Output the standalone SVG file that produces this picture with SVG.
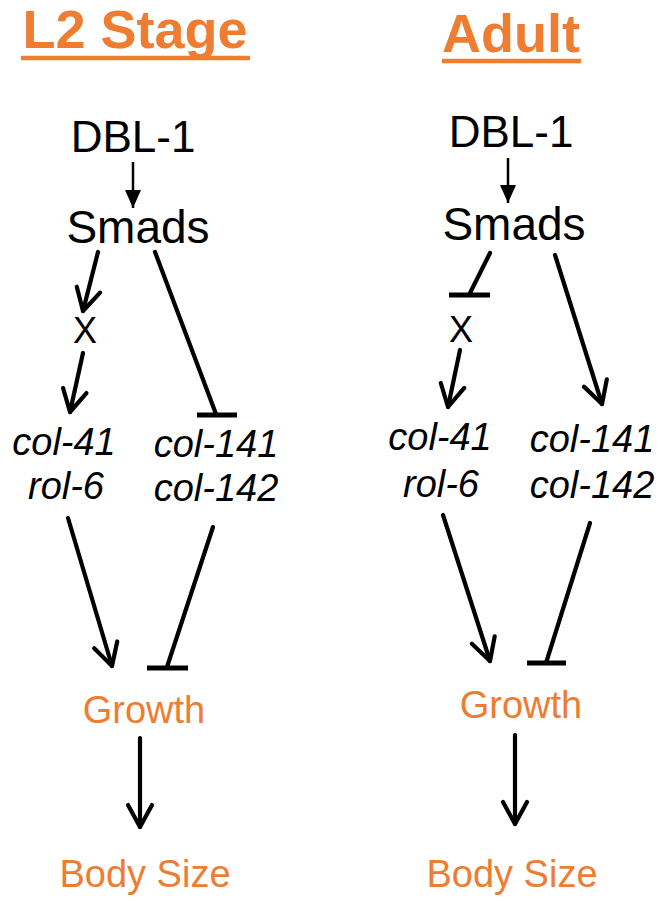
<svg xmlns="http://www.w3.org/2000/svg" width="670" height="897" viewBox="0 0 670 897">
<defs>
<style>
text{font-family:"Liberation Sans",Arial,sans-serif;text-anchor:middle}
.title{font-weight:bold;font-size:54px;fill:#EE7D31}
.ul{stroke:#EE7D31;stroke-width:4.5}
.n{font-size:44px;fill:#000}
.s{font-size:46px;fill:#000}
.x{font-size:36px;fill:#000}
.g{font-size:38px;font-style:italic;fill:#000}
.o{font-size:38px;fill:#EE7D31}
.c{stroke:#000;stroke-width:4.2;fill:none;stroke-linecap:round}
.thin{stroke:#000;stroke-width:2.5;fill:none}
.bar{stroke:#000;stroke-width:5;fill:none}
</style>
<marker id="ah" markerUnits="userSpaceOnUse" orient="auto" overflow="visible" markerWidth="1" markerHeight="1" refX="0" refY="0">
<path d="M -22 -12 L 0 0 L -22 12" fill="none" stroke="#000" stroke-width="4.2" stroke-linecap="round" stroke-linejoin="round"/>
</marker>
<marker id="ahs" markerUnits="userSpaceOnUse" orient="auto" overflow="visible" markerWidth="1" markerHeight="1" refX="0" refY="0">
<path d="M -18 -8 L 0 0 L -18 8 Z" fill="#000" stroke="none"/>
</marker>
</defs>
<rect width="670" height="897" fill="#fff"/>

<g id="title-l2">
<text class="title" x="135" y="48">L2 Stage</text>
<line class="ul" x1="21" y1="58" x2="250" y2="58"/>
</g>
<g id="title-adult">
<text class="title" x="511" y="52">Adult</text>
<line class="ul" x1="442" y1="61" x2="581" y2="61"/>
</g>

<g id="l-dbl1"><text class="n" x="133" y="152">DBL-1</text></g>
<g id="l-smads"><text class="s" x="138" y="243">Smads</text></g>
<g id="l-x"><text class="x" x="85" y="343">X</text></g>
<g id="l-col41"><text class="g" x="64" y="455">col-41</text><text class="g" x="66" y="499">rol-6</text></g>
<g id="l-col141"><text class="g" x="216" y="457">col-141</text><text class="g" x="216" y="501">col-142</text></g>
<g id="l-growth"><text class="o" x="144" y="723">Growth</text></g>
<g id="l-body"><text class="o" x="145" y="887">Body Size</text></g>

<g id="r-dbl1"><text class="n" x="511" y="147">DBL-1</text></g>
<g id="r-smads"><text class="s" x="514" y="240">Smads</text></g>
<g id="r-x"><text class="x" x="461" y="342">X</text></g>
<g id="r-col41"><text class="g" x="440" y="450">col-41</text><text class="g" x="441" y="497">rol-6</text></g>
<g id="r-col141"><text class="g" x="592" y="452">col-141</text><text class="g" x="592" y="498">col-142</text></g>
<g id="r-growth"><text class="o" x="521" y="718">Growth</text></g>
<g id="r-body"><text class="o" x="512" y="887">Body Size</text></g>

<g id="connectors">
<line class="thin" x1="133" y1="162" x2="133" y2="208" marker-end="url(#ahs)"/>
<line class="c" x1="98" y1="252" x2="83" y2="311" marker-end="url(#ah)"/>
<line class="c" x1="83" y1="353" x2="70" y2="412" marker-end="url(#ah)"/>
<line class="c" x1="155" y1="252" x2="216" y2="414"/>
<line class="bar" x1="197" y1="415" x2="237" y2="415"/>
<line class="c" x1="68" y1="518" x2="112" y2="666" marker-end="url(#ah)"/>
<line class="c" x1="213" y1="527" x2="167" y2="667"/>
<line class="bar" x1="147" y1="668" x2="188" y2="668"/>
<line class="c" x1="140" y1="738" x2="140" y2="827" marker-end="url(#ah)"/>

<line class="thin" x1="508" y1="158" x2="508" y2="203" marker-end="url(#ahs)"/>
<line class="c" x1="490" y1="253" x2="469" y2="295"/>
<line class="bar" x1="449" y1="295" x2="490" y2="295"/>
<line class="c" x1="460" y1="350" x2="448" y2="407" marker-end="url(#ah)"/>
<line class="c" x1="555" y1="255" x2="602" y2="404" marker-end="url(#ah)"/>
<line class="c" x1="443" y1="515" x2="490" y2="661" marker-end="url(#ah)"/>
<line class="c" x1="590" y1="523" x2="546" y2="663"/>
<line class="bar" x1="527" y1="663" x2="566" y2="663"/>
<line class="c" x1="515" y1="735" x2="515" y2="824" marker-end="url(#ah)"/>
</g>
</svg>
